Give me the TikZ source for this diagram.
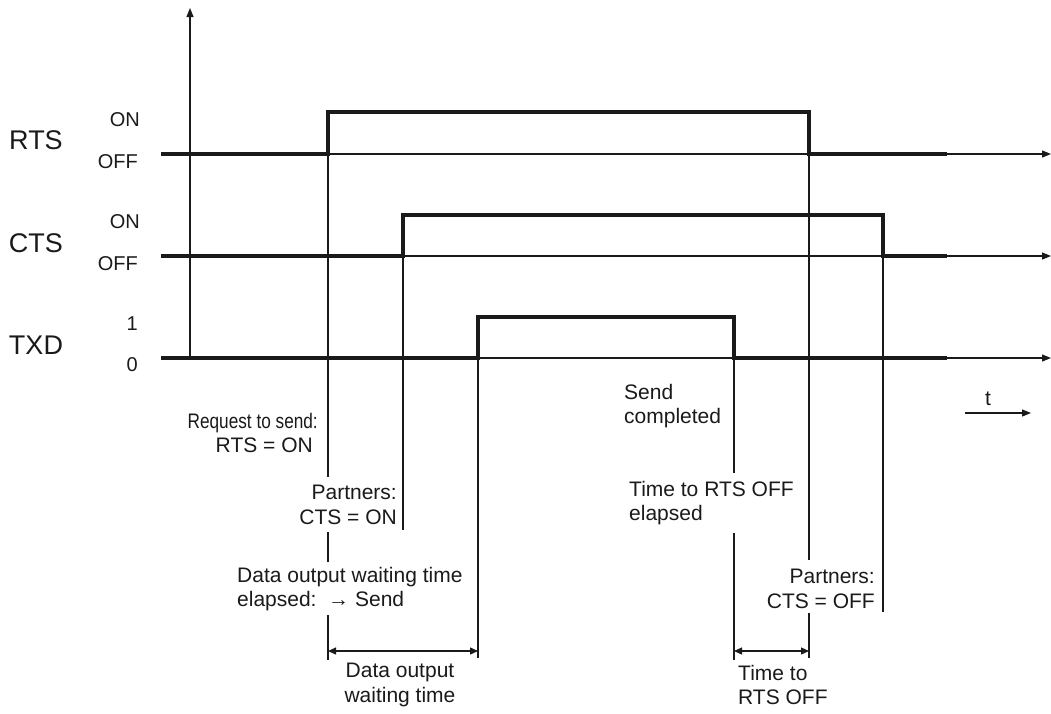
\documentclass[tikz,border=0pt]{standalone}
\usepackage{fontspec}
\setmainfont{Liberation Sans}
\usetikzlibrary{arrows.meta}
\definecolor{ink}{HTML}{1A1A1A}
\begin{document}
\begin{tikzpicture}[x=1pt,y=-1pt,
  sig/.style={line width=3.8pt, line join=miter, color=ink},
  thinln/.style={line width=1.2pt, color=ink},
  axis/.style={thinln, -{Triangle[length=9pt,width=7pt]}},
  dim/.style={thinln, {Triangle[length=8pt,width=7pt]}-{Triangle[length=8pt,width=7pt]}},
  biglbl/.style={font=\fontsize{27}{30}\selectfont, inner sep=0, text=ink},
  lvl/.style={font=\fontsize{20}{22}\selectfont, inner sep=0, text=ink},
  note/.style={font=\fontsize{21}{24.5}\selectfont, inner sep=0, text=ink},
]
\useasboundingbox (0,0) rectangle (1051,713);

% vertical axis
\coordinate (y0) at (190,358);
\coordinate (ytop) at (190,8);
\draw[axis] (y0) -- (ytop);

% baselines
\coordinate (rA) at (161,154); \coordinate (rZ) at (1051,154);
\coordinate (cA) at (161,256); \coordinate (cZ) at (1051,256);
\coordinate (tA) at (161,358); \coordinate (tZ) at (1051,358);
\draw[axis] (rA) -- (rZ);
\draw[axis] (cA) -- (cZ);
\draw[axis] (tA) -- (tZ);

% signals
\coordinate (r1) at (328,154); \coordinate (r2) at (328,112);
\coordinate (r3) at (809,112); \coordinate (r4) at (809,154);
\coordinate (rE) at (947,154);
\draw[sig] (rA) -- (r1) -- (r2) -- (r3) -- (r4) -- (rE);

\coordinate (c1) at (403,256); \coordinate (c2) at (403,215);
\coordinate (c3) at (883,215); \coordinate (c4) at (883,256);
\coordinate (cE) at (947,256);
\draw[sig] (cA) -- (c1) -- (c2) -- (c3) -- (c4) -- (cE);

\coordinate (t1) at (478,358); \coordinate (t2) at (478,317);
\coordinate (t3) at (734,317); \coordinate (t4) at (734,358);
\coordinate (tE) at (947,358);
\draw[sig] (tA) -- (t1) -- (t2) -- (t3) -- (t4) -- (tE);

% vertical marker lines
\draw[thinln] (r2) -- (328,477) (328,532) -- (328,562) (328,615) -- (328,660);
\draw[thinln] (c2) -- (403,530);
\draw[thinln] (t2) -- (478,658);
\draw[thinln] (t3) -- (734,473) (734,533) -- (734,660);
\draw[thinln] (r3) -- (809,560) (809,613) -- (809,658);
\draw[thinln] (c3) -- (883,612);

% dimension arrows
\coordinate (d1a) at (328,651); \coordinate (d1b) at (478,651);
\coordinate (d2a) at (734,651); \coordinate (d2b) at (809,651);
\draw[dim] (d1a) -- (d1b);
\draw[dim] (d2a) -- (d2b);

% time arrow
\coordinate (ta) at (965,413); \coordinate (tb) at (1031,413);
\draw[axis] (ta) -- (tb);
\node[note] (tl) at (988,399) {t};

% signal labels
\node[biglbl] (lrts) at (36,140) {RTS};
\node[lvl, anchor=east] (lrts1) at (140,120) {ON};
\node[lvl, anchor=east] (lrts0) at (138,162) {OFF};
\node[biglbl] (lcts) at (36,243) {CTS};
\node[lvl, anchor=east] (lcts1) at (140,222) {ON};
\node[lvl, anchor=east] (lcts0) at (138,264) {OFF};
\node[biglbl] (ltxd) at (36,345) {TXD};
\node[lvl, anchor=east] (ltxd1) at (138,324) {1};
\node[lvl, anchor=east] (ltxd0) at (138,365) {0};

% annotations
\node[note, anchor=east, align=right] (req) at (318,433) {\scalebox{0.82}[1]{Request to send:}\\RTS = ON\hspace*{5pt}};
\node[note, anchor=east, align=right] (pon) at (397,505) {Partners:\\CTS = ON};
\node[note, anchor=west, align=left] (dowe) at (237,589) {Data output waiting time\\elapsed:\ \ →\ Send};
\node[note, align=center] (dow) at (400,685) {Data output\\waiting time};
\node[note, anchor=west, align=left] (sc) at (624,406) {Send\\completed};
\node[note, anchor=west, align=left] (trt) at (629,503) {Time to RTS OFF\\elapsed};
\node[note, anchor=east, align=right] (poff) at (875,589) {Partners:\\CTS = OFF};
\node[note, anchor=west, align=left] (tto) at (738,685) {Time to\\RTS OFF};
\end{tikzpicture}
\end{document}
